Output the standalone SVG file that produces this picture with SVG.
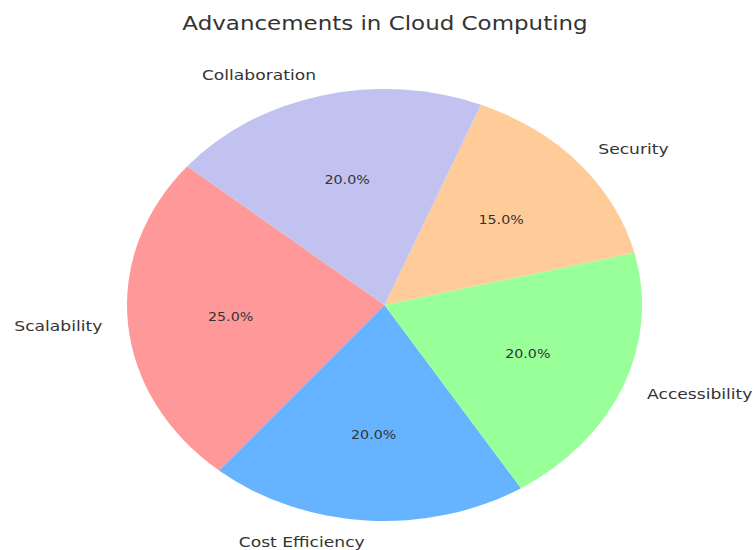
<svg xmlns="http://www.w3.org/2000/svg" width="754" height="550" viewBox="0 0 754 550">
  <style>
    text { font-family: "DejaVu Sans", "Liberation Sans", sans-serif; fill: #333; }
    .title { font-size: 19.3px; text-anchor: middle; }
    .label { font-size: 14.4px; }
    .pct { font-size: 12px; text-anchor: middle; }
    .slice { stroke: none; }
  </style>
  <rect width="754" height="550" fill="#ffffff"/>

  <!-- title, stretched horizontally like the rest of the chart -->
  <text class="title" transform="translate(385,30) scale(1.19,1)">Advancements in Cloud Computing</text>

  <!-- pie: centre (384.5,305), radii 257.5 x 216, start angle 140°, counter-clockwise -->
  <g id="scalability">
    <path class="slice" fill="#ff9999" d="M384.5,305 L187.2,166.2 A257.5,216 0 0 0 219.0,470.5 Z"/>
    <text class="label" text-anchor="end" transform="translate(102.3,331) scale(1.19,1)">Scalability</text>
    <text class="pct" transform="translate(230.6,320.5) scale(1.19,1)">25.0%</text>
  </g>
  <g id="cost-efficiency">
    <path class="slice" fill="#66b3ff" d="M384.5,305 L219.0,470.5 A257.5,216 0 0 0 521.0,488.2 Z"/>
    <text class="label" text-anchor="end" transform="translate(364.7,547.3) scale(1.19,1)">Cost Efficiency</text>
    <text class="pct" transform="translate(373.7,438.5) scale(1.19,1)">20.0%</text>
  </g>
  <g id="accessibility">
    <path class="slice" fill="#99ff99" d="M384.5,305 L521.0,488.2 A257.5,216 0 0 0 634.4,252.7 Z"/>
    <text class="label" transform="translate(647.1,399.3) scale(1.19,1)">Accessibility</text>
    <text class="pct" transform="translate(527.8,357.7) scale(1.19,1)">20.0%</text>
  </g>
  <g id="security">
    <path class="slice" fill="#ffcc99" d="M384.5,305 L634.4,252.7 A257.5,216 0 0 0 481.0,104.7 Z"/>
    <text class="label" transform="translate(598.3,154.4) scale(1.19,1)">Security</text>
    <text class="pct" transform="translate(501.1,224.2) scale(1.19,1)">15.0%</text>
  </g>
  <g id="collaboration">
    <path class="slice" fill="#c2c2f0" d="M384.5,305 L481.0,104.7 A257.5,216 0 0 0 187.2,166.2 Z"/>
    <text class="label" text-anchor="end" transform="translate(316,79.8) scale(1.19,1)">Collaboration</text>
    <text class="pct" transform="translate(347.1,183.5) scale(1.19,1)">20.0%</text>
  </g>

  <!-- a pie chart has no connectors -->
  <g id="connectors"/>
</svg>
